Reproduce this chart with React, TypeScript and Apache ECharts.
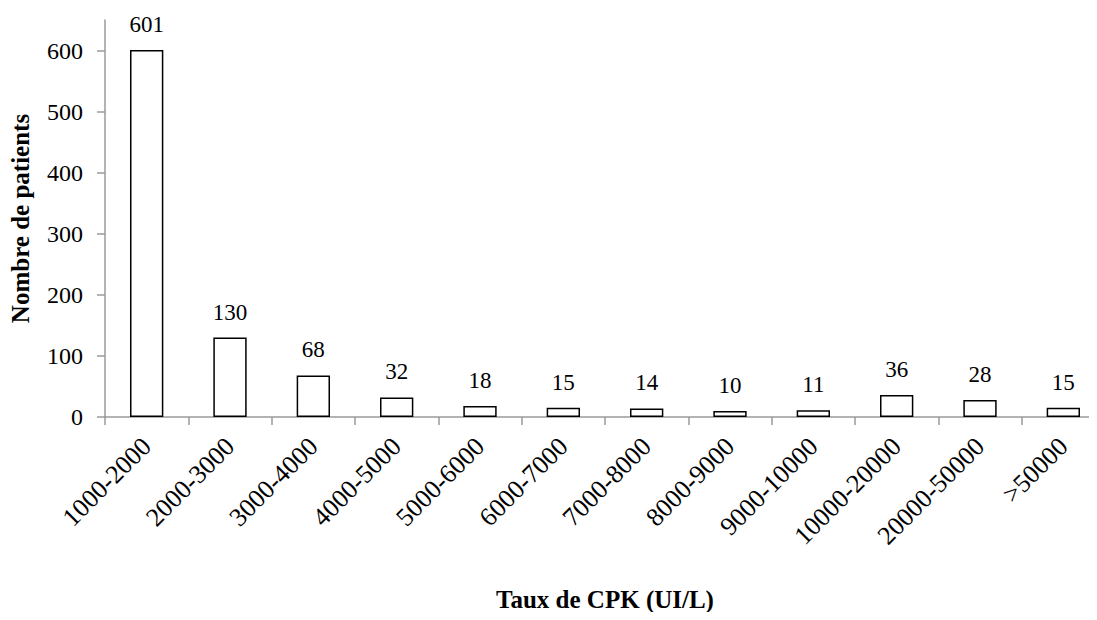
import React, { useEffect, useRef } from "react";
import * as echarts from "echarts";

const categories = [
  "1000-2000", "2000-3000", "3000-4000", "4000-5000", "5000-6000", "6000-7000",
  "7000-8000", "8000-9000", "9000-10000", "10000-20000", "20000-50000", ">50000",
];
const patients = [601, 130, 68, 32, 18, 15, 14, 10, 11, 36, 28, 15];
const yTicks = [0, 100, 200, 300, 400, 500, 600];

const FONT = "Liberation Serif";
const AXIS = "#9a9a9a";

export default function App() {
  const ref = useRef<HTMLDivElement>(null);
  useEffect(() => {
    if (!ref.current) return;
    const chart = echarts.init(ref.current, undefined, { renderer: "svg" });
    chart.setOption({
      animation: false,
      backgroundColor: "#fff",
      textStyle: { fontFamily: FONT },
      grid: {
        left: 97, top: 12, width: 1000, bottom: 195,
        containLabel: false, outerBoundsMode: "none",
      },
      xAxis: {
        type: "category",
        data: categories,
        boundaryGap: true,
        axisLine: { show: true, lineStyle: { color: AXIS, width: 1.5 } },
        axisTick: { show: true, alignWithLabel: false, length: 8, lineStyle: { color: AXIS, width: 1.5 } },
        axisLabel: { rotate: 45, margin: 25, color: "#000", fontSize: 26, fontFamily: FONT, interval: 0 },
        name: "Taux de CPK (UI/L)",
        nameLocation: "middle",
        nameGap: 170,
        nameTextStyle: { color: "#000", fontSize: 25, fontWeight: "bold", fontFamily: FONT },
      },
      yAxis: {
        type: "value",
        min: 0,
        max: 650,
        interval: 100,
        splitLine: { show: false },
        axisLine: { show: true, lineStyle: { color: AXIS, width: 1.5 } },
        axisTick: { show: true, length: 8, customValues: yTicks, lineStyle: { color: AXIS, width: 1.5 } },
        axisLabel: { customValues: yTicks, margin: 22, color: "#000", fontSize: 24, fontFamily: FONT },
        name: "Nombre de patients",
        nameLocation: "middle",
        nameGap: 72,
        nameTextStyle: { color: "#000", fontSize: 25, fontWeight: "bold", fontFamily: FONT },
      },
      series: [
        {
          type: "bar",
          data: patients,
          barWidth: "40%",
          itemStyle: { color: "#fff", borderColor: "#000", borderWidth: 1.5 },
          label: { show: true, position: "top", distance: 14, color: "#000", fontSize: 23, fontFamily: FONT },
        },
      ],
    });
    return () => chart.dispose();
  }, []);
  return <div ref={ref} style={{ width: 1081, height: 604 }} />;
}
